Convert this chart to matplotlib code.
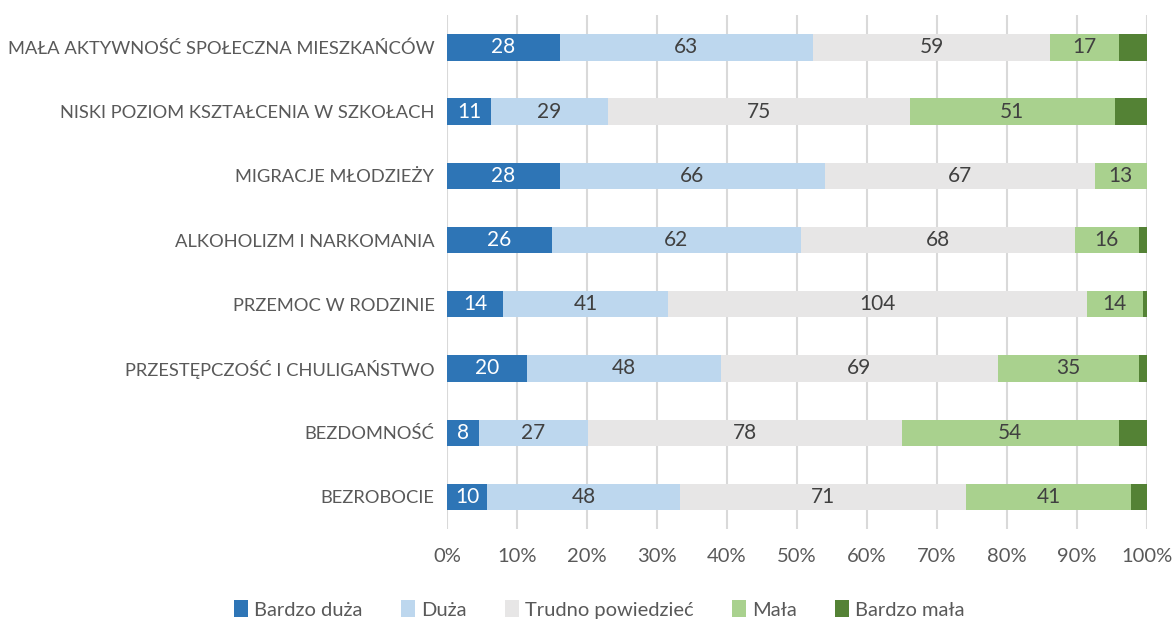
import matplotlib.pyplot as plt
import numpy as np

categories = [
    "MAŁA AKTYWNOŚĆ SPOŁECZNA MIESZKAŃCÓW",
    "NISKI POZIOM KSZTAŁCENIA W SZKOŁACH",
    "MIGRACJE MŁODZIEŻY",
    "ALKOHOLIZM I NARKOMANIA",
    "PRZEMOC W RODZINIE",
    "PRZESTĘPCZOŚĆ I CHULIGAŃSTWO",
    "BEZDOMNOŚĆ",
    "BEZROBOCIE",
]
series_names = ["Bardzo duża", "Duża", "Trudno powiedzieć", "Mała", "Bardzo mała"]
bardzo_duza = [28, 11, 28, 26, 14, 20, 8, 10]
duza = [63, 29, 66, 62, 41, 48, 27, 48]
trudno = [59, 75, 67, 68, 104, 69, 78, 71]
mala = [17, 51, 13, 16, 14, 35, 54, 41]
bardzo_mala = [7, 8, 0, 2, 1, 2, 7, 4]

colors = ["#2E75B6", "#BDD7EE", "#E7E6E6", "#A9D18E", "#548235"]
text_colors = ["white", "#404040", "#404040", "#404040", "#404040"]
show_labels = [True, True, True, True, False]

plt.rcParams['font.family'] = ['Lato', 'DejaVu Sans']

data = np.array([bardzo_duza, duza, trudno, mala, bardzo_mala], dtype=float)
totals = data.sum(axis=0)
pct = data / totals

fig = plt.figure(figsize=(11.75, 6.22), dpi=100)
ax = fig.add_axes([0.3804, 0.1495, 0.5958, 0.826])

y = np.arange(len(categories))
left = np.zeros(len(categories))
for i, name in enumerate(series_names):
    ax.barh(y, pct[i], left=left, height=0.41, color=colors[i], label=name, zorder=3)
    if show_labels[i]:
        for j in range(len(categories)):
            if data[i, j] > 0:
                ax.text(left[j] + pct[i, j] / 2, y[j], f"{int(data[i, j])}",
                        ha='center', va='center', fontsize=15, color=text_colors[i], zorder=4)
    left += pct[i]

ax.set_xlim(0, 1)
ax.set_ylim(len(categories) - 0.5, -0.5)
ax.set_xticks(np.linspace(0, 1, 11))
ax.set_xticklabels([f"{int(v)}%" for v in np.arange(0, 101, 10)], fontsize=14.5, color="#595959")
ax.set_yticks(y)
ax.set_yticklabels(categories, fontsize=13.2, color="#595959")
ax.tick_params(axis='both', length=0)
ax.tick_params(axis='x', pad=14)
ax.tick_params(axis='y', pad=9)
ax.grid(axis='x', color="#D9D9D9", linewidth=1.5, zorder=0)
for s in ax.spines.values():
    s.set_visible(False)

fig.legend(loc='lower center', bbox_to_anchor=(0.51, -0.024), ncol=5, frameon=False,
           fontsize=14.5, handlelength=0.7, handleheight=0.9, handletextpad=0.3,
           columnspacing=1.9, labelcolor="#595959")

plt.savefig("out.png", dpi=100)
